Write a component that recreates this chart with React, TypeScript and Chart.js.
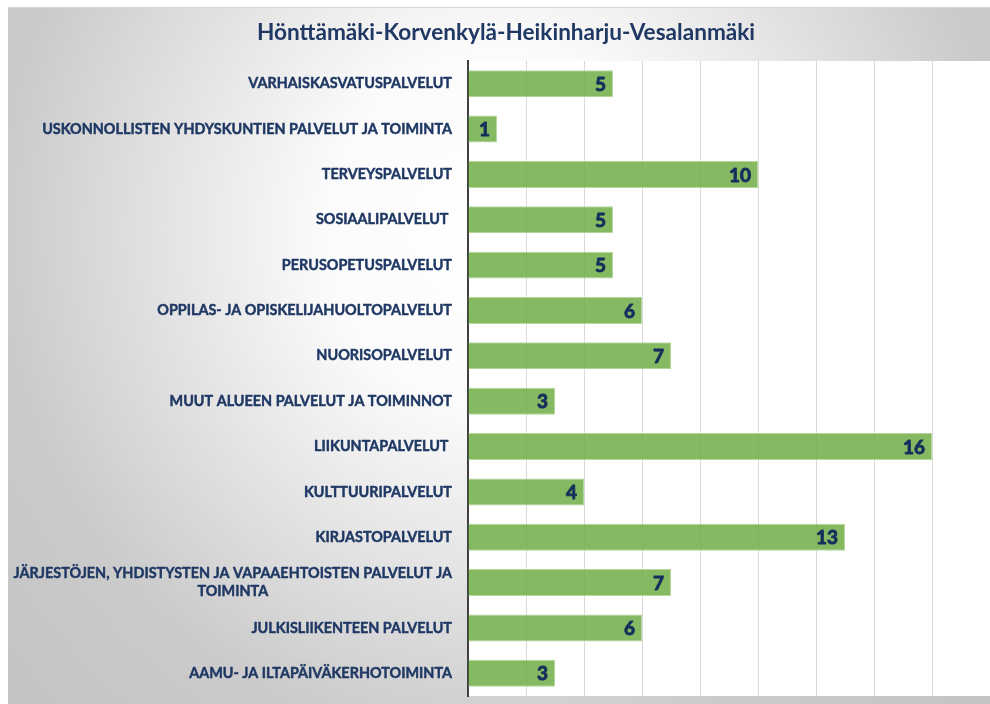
import React, { useEffect, useRef } from "react";
import { Chart, registerables } from "chart.js";

Chart.register(...registerables);

const TITLE = "Hönttämäki-Korvenkylä-Heikinharju-Vesalanmäki";

const categories: (string | string[])[] = [
  "VARHAISKASVATUSPALVELUT",
  "USKONNOLLISTEN YHDYSKUNTIEN PALVELUT JA TOIMINTA",
  "TERVEYSPALVELUT",
  "SOSIAALIPALVELUT ",
  "PERUSOPETUSPALVELUT",
  "OPPILAS- JA OPISKELIJAHUOLTOPALVELUT",
  "NUORISOPALVELUT",
  "MUUT ALUEEN PALVELUT JA TOIMINNOT",
  "LIIKUNTAPALVELUT ",
  "KULTTUURIPALVELUT",
  "KIRJASTOPALVELUT",
  ["JÄRJESTÖJEN, YHDISTYSTEN JA VAPAAEHTOISTEN PALVELUT JA", "TOIMINTA"],
  "JULKISLIIKENTEEN PALVELUT",
  "AAMU- JA ILTAPÄIVÄKERHOTOIMINTA",
];

const values: number[] = [5, 1, 10, 5, 5, 6, 7, 3, 16, 4, 13, 7, 6, 3];

const xMin = 0;
const xMax = 18;
const xStep = 2;

const NAVY = "#1F3864";
const VALUE_NAVY = "#162E5C";
const FONT = "Lato, 'Noto Sans', sans-serif";

const backgroundPlugin = {
  id: "bgPlugin",
  beforeDraw(chart: any) {
    const { ctx, width, height, chartArea } = chart;
    ctx.save();
    ctx.fillStyle = "#ffffff";
    ctx.fillRect(0, 0, width, height);
    ctx.save();
    const cx = 492;
    const cy = 223;
    const rx = 500;
    const ry = 520;
    ctx.translate(cx, cy);
    ctx.scale(1, ry / rx);
    const R = 700;
    const g = ctx.createRadialGradient(0, 0, 0, 0, 0, R);
    g.addColorStop(0, "#ffffff");
    g.addColorStop(0.25, "#fbfbfb");
    g.addColorStop(0.71, "#cbcbcb");
    g.addColorStop(1, "#c2c2c2");
    ctx.fillStyle = g;
    ctx.fillRect(-2000, -2000, 4000, 4000);
    ctx.restore();
    ctx.fillStyle = "#d6d6d6";
    ctx.fillRect(0, 0, width, 1);
    ctx.fillStyle = "#ffffff";
    ctx.fillRect(
      chartArea.left,
      chartArea.top,
      chartArea.right - chartArea.left,
      chartArea.bottom - chartArea.top
    );
    ctx.restore();
  },
};

const labelsPlugin = {
  id: "labelsPlugin",
  afterDraw(chart: any) {
    const { ctx } = chart;
    const yScale = chart.scales.y;
    const labels = chart.data.labels as (string | string[])[];
    ctx.save();
    ctx.fillStyle = NAVY;
    ctx.strokeStyle = NAVY;
    ctx.lineWidth = 0.45;
    ctx.lineJoin = "round";
    ctx.font = `bold 14.4px ${FONT}`;
    ctx.textBaseline = "middle";
    ctx.textAlign = "center";
    const rightEdge = yScale.right - 16;
    const lineH = 18;
    labels.forEach((lab, i) => {
      const lines = Array.isArray(lab) ? lab : [lab];
      const y = yScale.getPixelForTick(i);
      const maxW = Math.max(...lines.map((l) => ctx.measureText(l).width));
      const cx = rightEdge - maxW / 2;
      const y0 = y - ((lines.length - 1) * lineH) / 2;
      lines.forEach((l, k) => {
        ctx.fillText(l, cx, y0 + k * lineH);
        ctx.strokeText(l, cx, y0 + k * lineH);
      });
    });
    const meta = chart.getDatasetMeta(0);
    ctx.font = `bold 19px ${FONT}`;
    ctx.textAlign = "right";
    ctx.fillStyle = VALUE_NAVY;
    ctx.strokeStyle = VALUE_NAVY;
    ctx.lineWidth = 0.9;
    meta.data.forEach((bar: any, i: number) => {
      const v = String(chart.data.datasets[0].data[i]);
      ctx.fillText(v, bar.x - 7, bar.y + 1);
      ctx.strokeText(v, bar.x - 7, bar.y + 1);
    });
    ctx.restore();
  },
};

export default function App() {
  const ref = useRef<HTMLCanvasElement | null>(null);
  useEffect(() => {
    if (!ref.current) return;
    const chart = new Chart(ref.current, {
      type: "bar",
      data: {
        labels: categories,
        datasets: [
          {
            data: values,
            backgroundColor: "rgba(112,173,71,0.85)",
            borderColor: "#B4D89C",
            borderWidth: 1,
            barPercentage: 0.595,
            categoryPercentage: 1,
          },
        ],
      },
      options: {
        indexAxis: "y",
        animation: false,
        responsive: false,
        devicePixelRatio: 1,
        layout: { padding: { left: 14, right: 0, top: 0, bottom: 8 } },
        plugins: {
          legend: { display: false },
          tooltip: { enabled: false },
          title: {
            display: true,
            text: TITLE,
            color: NAVY,
            font: { family: FONT, size: 22.6, weight: "bold", lineHeight: 1.2 },
            padding: { top: 12, bottom: 14.9 },
          },
        },
        scales: {
          x: {
            type: "linear",
            min: xMin,
            max: xMax,
            ticks: { display: false, stepSize: xStep },
            grid: { color: "#D9D9D9", lineWidth: 1, drawTicks: false },
            border: { display: false },
          },
          y: {
            ticks: { display: false },
            grid: { display: false, drawTicks: false },
            border: { display: true, color: "#404040", width: 2 },
            afterFit: (scale: any) => {
              scale.width = 446;
            },
          },
        },
      },
      plugins: [backgroundPlugin, labelsPlugin],
    });
    return () => chart.destroy();
  }, []);
  return (
    <div
      style={{
        position: "fixed",
        top: 7,
        left: 8,
        width: 982,
        height: 697,
      }}
    >
      <canvas ref={ref} width={982} height={697} />
    </div>
  );
}
